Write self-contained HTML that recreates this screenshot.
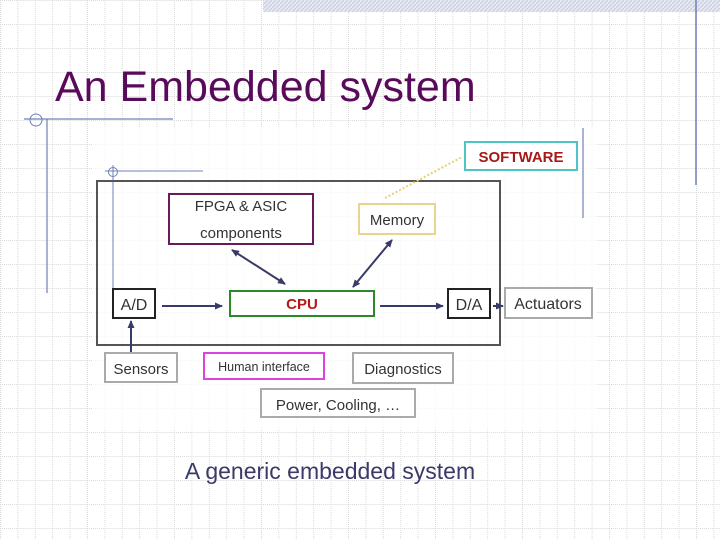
<!DOCTYPE html>
<html><head><meta charset="utf-8"><style>
html,body{margin:0;padding:0;background:#fff}
svg{display:block}
</style></head><body>
<svg width="720" height="540" viewBox="0 0 720 540" xmlns="http://www.w3.org/2000/svg" font-family="'Liberation Sans', 'DejaVu Sans', sans-serif">
<defs>
<pattern id="g" width="17.4" height="24" patternUnits="userSpaceOnUse">
<path d="M0.5 0V24M0 0.5H17.4" stroke="#d8d8d8" stroke-width="1" stroke-dasharray="1 1" fill="none"/>
</pattern>
<pattern id="h" width="4" height="4" patternUnits="userSpaceOnUse">
<rect width="4" height="4" fill="#e4e8f2"/><path d="M0 4L4 0" stroke="#c4cce0" stroke-width="1"/>
</pattern>
<marker id="a" markerWidth="8" markerHeight="8" refX="7" refY="4" orient="auto-start-reverse" markerUnits="userSpaceOnUse">
<path d="M0 0.5L8 4L0 7.5Z" fill="#3a3a6a"/>
</marker>
</defs>
<rect width="720" height="540" fill="#fff"/>
<rect width="720" height="540" fill="url(#g)"/>
<rect x="263" y="0" width="457" height="12" fill="url(#h)"/>
<line x1="696" y1="0" x2="696" y2="185" stroke="#7080b8" stroke-width="1.5"/>
<text x="55" y="101" font-size="43" fill="#5a0a5a">An Embedded system</text>
<line x1="24" y1="119" x2="173" y2="119" stroke="#7080b8" stroke-width="1.2"/>
<circle cx="36" cy="120" r="6" fill="none" stroke="#7080b8" stroke-width="1"/>
<line x1="47" y1="119" x2="47" y2="293" stroke="#7080b8" stroke-width="1.2"/>
<rect x="92" y="128" width="505" height="302" fill="#fff" opacity="0.75"/>
<line x1="583" y1="128" x2="583" y2="218" stroke="#7080b8" stroke-width="1.2"/>
<line x1="105" y1="171" x2="203" y2="171" stroke="#7080b8" stroke-width="1"/>
<circle cx="113" cy="172" r="4.5" fill="none" stroke="#7080b8" stroke-width="1"/>
<line x1="113" y1="165" x2="113" y2="290" stroke="#7080b8" stroke-width="1"/>
<rect x="97" y="181" width="403" height="164" fill="none" stroke="#555" stroke-width="2"/>
<rect x="465" y="142" width="112" height="28" fill="#fff" stroke="#4cc4c8" stroke-width="2"/>
<text x="521" y="162" font-size="15" font-weight="bold" fill="#a81818" text-anchor="middle">SOFTWARE</text>
<line x1="385" y1="198" x2="462" y2="157" stroke="#e8d070" stroke-width="2" stroke-dasharray="2 2"/>
<rect x="169" y="194" width="144" height="50" fill="#fff" stroke="#6a1a5a" stroke-width="2"/>
<text x="241" y="211" font-size="15" fill="#333" text-anchor="middle">FPGA &amp; ASIC</text>
<text x="241" y="238" font-size="15" fill="#333" text-anchor="middle">components</text>
<rect x="359" y="204" width="76" height="30" fill="#fff" stroke="#e8d58a" stroke-width="2"/>
<text x="397" y="225" font-size="15" fill="#333" text-anchor="middle">Memory</text>
<rect x="113" y="289" width="42" height="29" fill="#fff" stroke="#222" stroke-width="2"/>
<text x="134" y="310" font-size="16" fill="#333" text-anchor="middle">A/D</text>
<rect x="230" y="291" width="144" height="25" fill="#fff" stroke="#2a8a2a" stroke-width="2"/>
<text x="302" y="309" font-size="15" font-weight="bold" fill="#b81818" text-anchor="middle">CPU</text>
<rect x="448" y="289" width="42" height="29" fill="#fff" stroke="#222" stroke-width="2"/>
<text x="469" y="310" font-size="16" fill="#333" text-anchor="middle">D/A</text>
<rect x="505" y="288" width="87" height="30" fill="#fff" stroke="#aaa" stroke-width="2"/>
<text x="548" y="309" font-size="16" fill="#333" text-anchor="middle">Actuators</text>
<rect x="105" y="353" width="72" height="29" fill="#fff" stroke="#aaa" stroke-width="2"/>
<text x="141" y="374" font-size="15" fill="#333" text-anchor="middle">Sensors</text>
<rect x="204" y="353" width="120" height="26" fill="#fff" stroke="#e040e0" stroke-width="2"/>
<text x="264" y="371" font-size="12.5" fill="#333" text-anchor="middle">Human interface</text>
<rect x="353" y="353" width="100" height="30" fill="#fff" stroke="#aaa" stroke-width="2"/>
<text x="403" y="374" font-size="15" fill="#333" text-anchor="middle">Diagnostics</text>
<rect x="261" y="389" width="154" height="28" fill="#fff" stroke="#aaa" stroke-width="2"/>
<text x="338" y="410" font-size="15" fill="#333" text-anchor="middle">Power, Cooling, …</text>
<g stroke="#3a3a6a" stroke-width="2" fill="none">
<line x1="162" y1="306" x2="222" y2="306" marker-end="url(#a)"/>
<line x1="380" y1="306" x2="443" y2="306" marker-end="url(#a)"/>
<line x1="493" y1="306" x2="503" y2="306" marker-end="url(#a)"/>
<line x1="131" y1="352" x2="131" y2="321" marker-end="url(#a)"/>
<line x1="232" y1="250" x2="285" y2="284" marker-start="url(#a)" marker-end="url(#a)"/>
<line x1="392" y1="240" x2="353" y2="287" marker-start="url(#a)" marker-end="url(#a)"/>
</g>
<text x="330" y="479" font-size="23" fill="#3a3a6a" text-anchor="middle">A generic embedded system</text>
</svg>
</body></html>
